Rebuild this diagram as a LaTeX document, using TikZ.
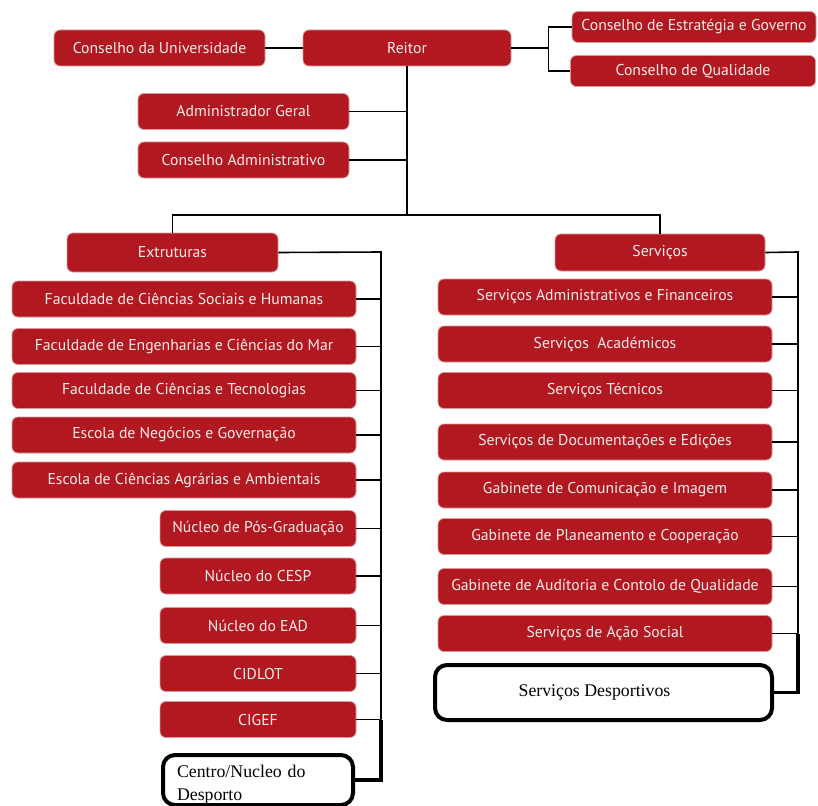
\documentclass[tikz,border=0pt]{standalone}
\usepackage{fontspec}
\setmainfont{PT Sans}
\newfontfamily\serifa{Liberation Serif}
\usepackage{tikz}
\definecolor{vermelho}{RGB}{178,24,32}
\definecolor{rosado}{RGB}{252,236,236}

\begin{document}
\begin{tikzpicture}[x=1pt, y=-1pt,
  caixa/.style={fill=vermelho, draw=vermelho!45, line width=0.8pt, text=rosado,
    rounded corners=6pt, minimum height=36pt, inner sep=0pt,
    font=\fontsize{15.7}{18}\selectfont},
  branca/.style={draw=black, line width=4pt, rounded corners=12pt, fill=white,
    inner sep=0pt, font=\serifa\fontsize{17.8}{23}\selectfont},
  liga/.style={line width=1.6pt},
  grossa/.style={line width=3.6pt}]
  \useasboundingbox (0,0) rectangle (818,805);

  \node[caixa, minimum width=211pt] (univ) at (159.5,48) {Conselho da Universidade};
  \node[caixa, minimum width=208pt] (reitor) at (407,48) {Reitor};
  \node[caixa, minimum width=244pt, minimum height=31pt] (estrat) at (694,27) {Conselho de Estratégia e Governo};
  \node[caixa, minimum width=245pt, minimum height=31pt] (qualid) at (693,71) {Conselho de Qualidade};
  \node[caixa, minimum width=211pt] (admger) at (243.5,111.5) {Administrador Geral};
  \node[caixa, minimum width=211pt] (consadm) at (243.5,160) {Conselho Administrativo};

  % estruturas
  \node[caixa, minimum width=211pt, minimum height=39pt] (extrut) at (172.5,252.5) {Extruturas};
  \node[caixa, minimum width=344pt] (fcsh) at (184,299) {Faculdade de Ciências Sociais e Humanas};
  \node[caixa, minimum width=344pt] (fecm) at (184,346.5) {Faculdade de Engenharias e Ciências do Mar};
  \node[caixa, minimum width=344pt] (fct) at (184,390.5) {Faculdade de Ciências e Tecnologias};
  \node[caixa, minimum width=344pt] (eng) at (184,435) {Escola de Negócios e Governação};
  \node[caixa, minimum width=344pt] (ecaa) at (184,480) {Escola de Ciências Agrárias e Ambientais};
  \node[caixa, minimum width=196pt] (npg) at (258,528.5) {Núcleo de Pós-Graduação};
  \node[caixa, minimum width=196pt] (cesp) at (258,576) {Núcleo do CESP};
  \node[caixa, minimum width=196pt] (ead) at (258,625.5) {Núcleo do EAD};
  \node[caixa, minimum width=196pt] (cidlot) at (258,673.5) {CIDLOT};
  \node[caixa, minimum width=196pt] (cigef) at (258,719.5) {CIGEF};
  \node[branca, minimum width=190pt, minimum height=50pt, text width=162pt, align=left]
    (centro) at (258,780) {\rule{0pt}{22pt}Centro/Nucleo do\\Desporto};

  % servicos
  \node[caixa, minimum width=210pt, minimum height=37pt] (serv) at (660,252.5) {Serviços};
  \node[caixa, minimum width=334pt] (saf) at (605,297) {Serviços Administrativos e Financeiros};
  \node[caixa, minimum width=334pt] (sac) at (605,344) {Serviços~ Académicos};
  \node[caixa, minimum width=334pt] (stec) at (605,390.5) {Serviços Técnicos};
  \node[caixa, minimum width=334pt] (sde) at (605,442) {Serviços de Documentações e Edições};
  \node[caixa, minimum width=334pt] (gci) at (605,490) {Gabinete de Comunicação e Imagem};
  \node[caixa, minimum width=334pt] (gpc) at (605,536.5) {Gabinete de Planeamento e Cooperação};
  \node[caixa, minimum width=334pt] (gacq) at (605,586.5) {Gabinete de Audítoria e Contolo de Qualidade};
  \node[caixa, minimum width=334pt] (sas) at (605,633.5) {Serviços de Ação Social};
  \node[branca, minimum width=337pt, minimum height=55pt] (sdesp) at (603.5,692.5) {Serviços Desportivos\hspace*{18pt}};

  % ligacoes
  \draw[liga] (univ) -- (reitor);
  \draw[liga] (reitor.east) -- ++(37,0) coordinate (conselhos);
  \draw[liga] (estrat.west) -| (conselhos) |- (qualid.west);
  \coordinate (barra) at (407,215);
  \draw[liga] (reitor.south) -- (barra);
  \draw[liga] (admger.east) -- (admger.east -| barra);
  \draw[liga] (consadm.east) -- (consadm.east -| barra);
  \draw[liga] (extrut.north) |- (barra) -| (serv.north);

  \coordinate (besq) at (381,252);
  \draw[liga] (extrut.east) -- (besq) -- (besq |- cigef);
  \draw[liga] (fcsh.east) -- (fcsh.east -| besq);
  \draw[liga] (fecm.east) -- (fecm.east -| besq);
  \draw[liga] (fct.east) -- (fct.east -| besq);
  \draw[liga] (eng.east) -- (eng.east -| besq);
  \draw[liga] (ecaa.east) -- (ecaa.east -| besq);
  \draw[liga] (npg.east) -- (npg.east -| besq);
  \draw[liga] (cesp.east) -- (cesp.east -| besq);
  \draw[liga] (ead.east) -- (ead.east -| besq);
  \draw[liga] (cidlot.east) -- (cidlot.east -| besq);
  \draw[liga] (cigef.east) -- (cigef.east -| besq);
  \draw[grossa] (besq |- cigef) |- (centro.east);

  \coordinate (bdir) at (798,252);
  \draw[liga] (serv.east) -- (bdir) -- (bdir |- sas);
  \draw[liga] (saf.east) -- (saf.east -| bdir);
  \draw[liga] (sac.east) -- (sac.east -| bdir);
  \draw[liga] (stec.east) -- (stec.east -| bdir);
  \draw[liga] (sde.east) -- (sde.east -| bdir);
  \draw[liga] (gci.east) -- (gci.east -| bdir);
  \draw[liga] (gpc.east) -- (gpc.east -| bdir);
  \draw[liga] (gacq.east) -- (gacq.east -| bdir);
  \draw[liga] (sas.east) -- (sas.east -| bdir);
  \draw[grossa] (bdir |- sas) |- (sdesp.east);
\end{tikzpicture}
\end{document}
